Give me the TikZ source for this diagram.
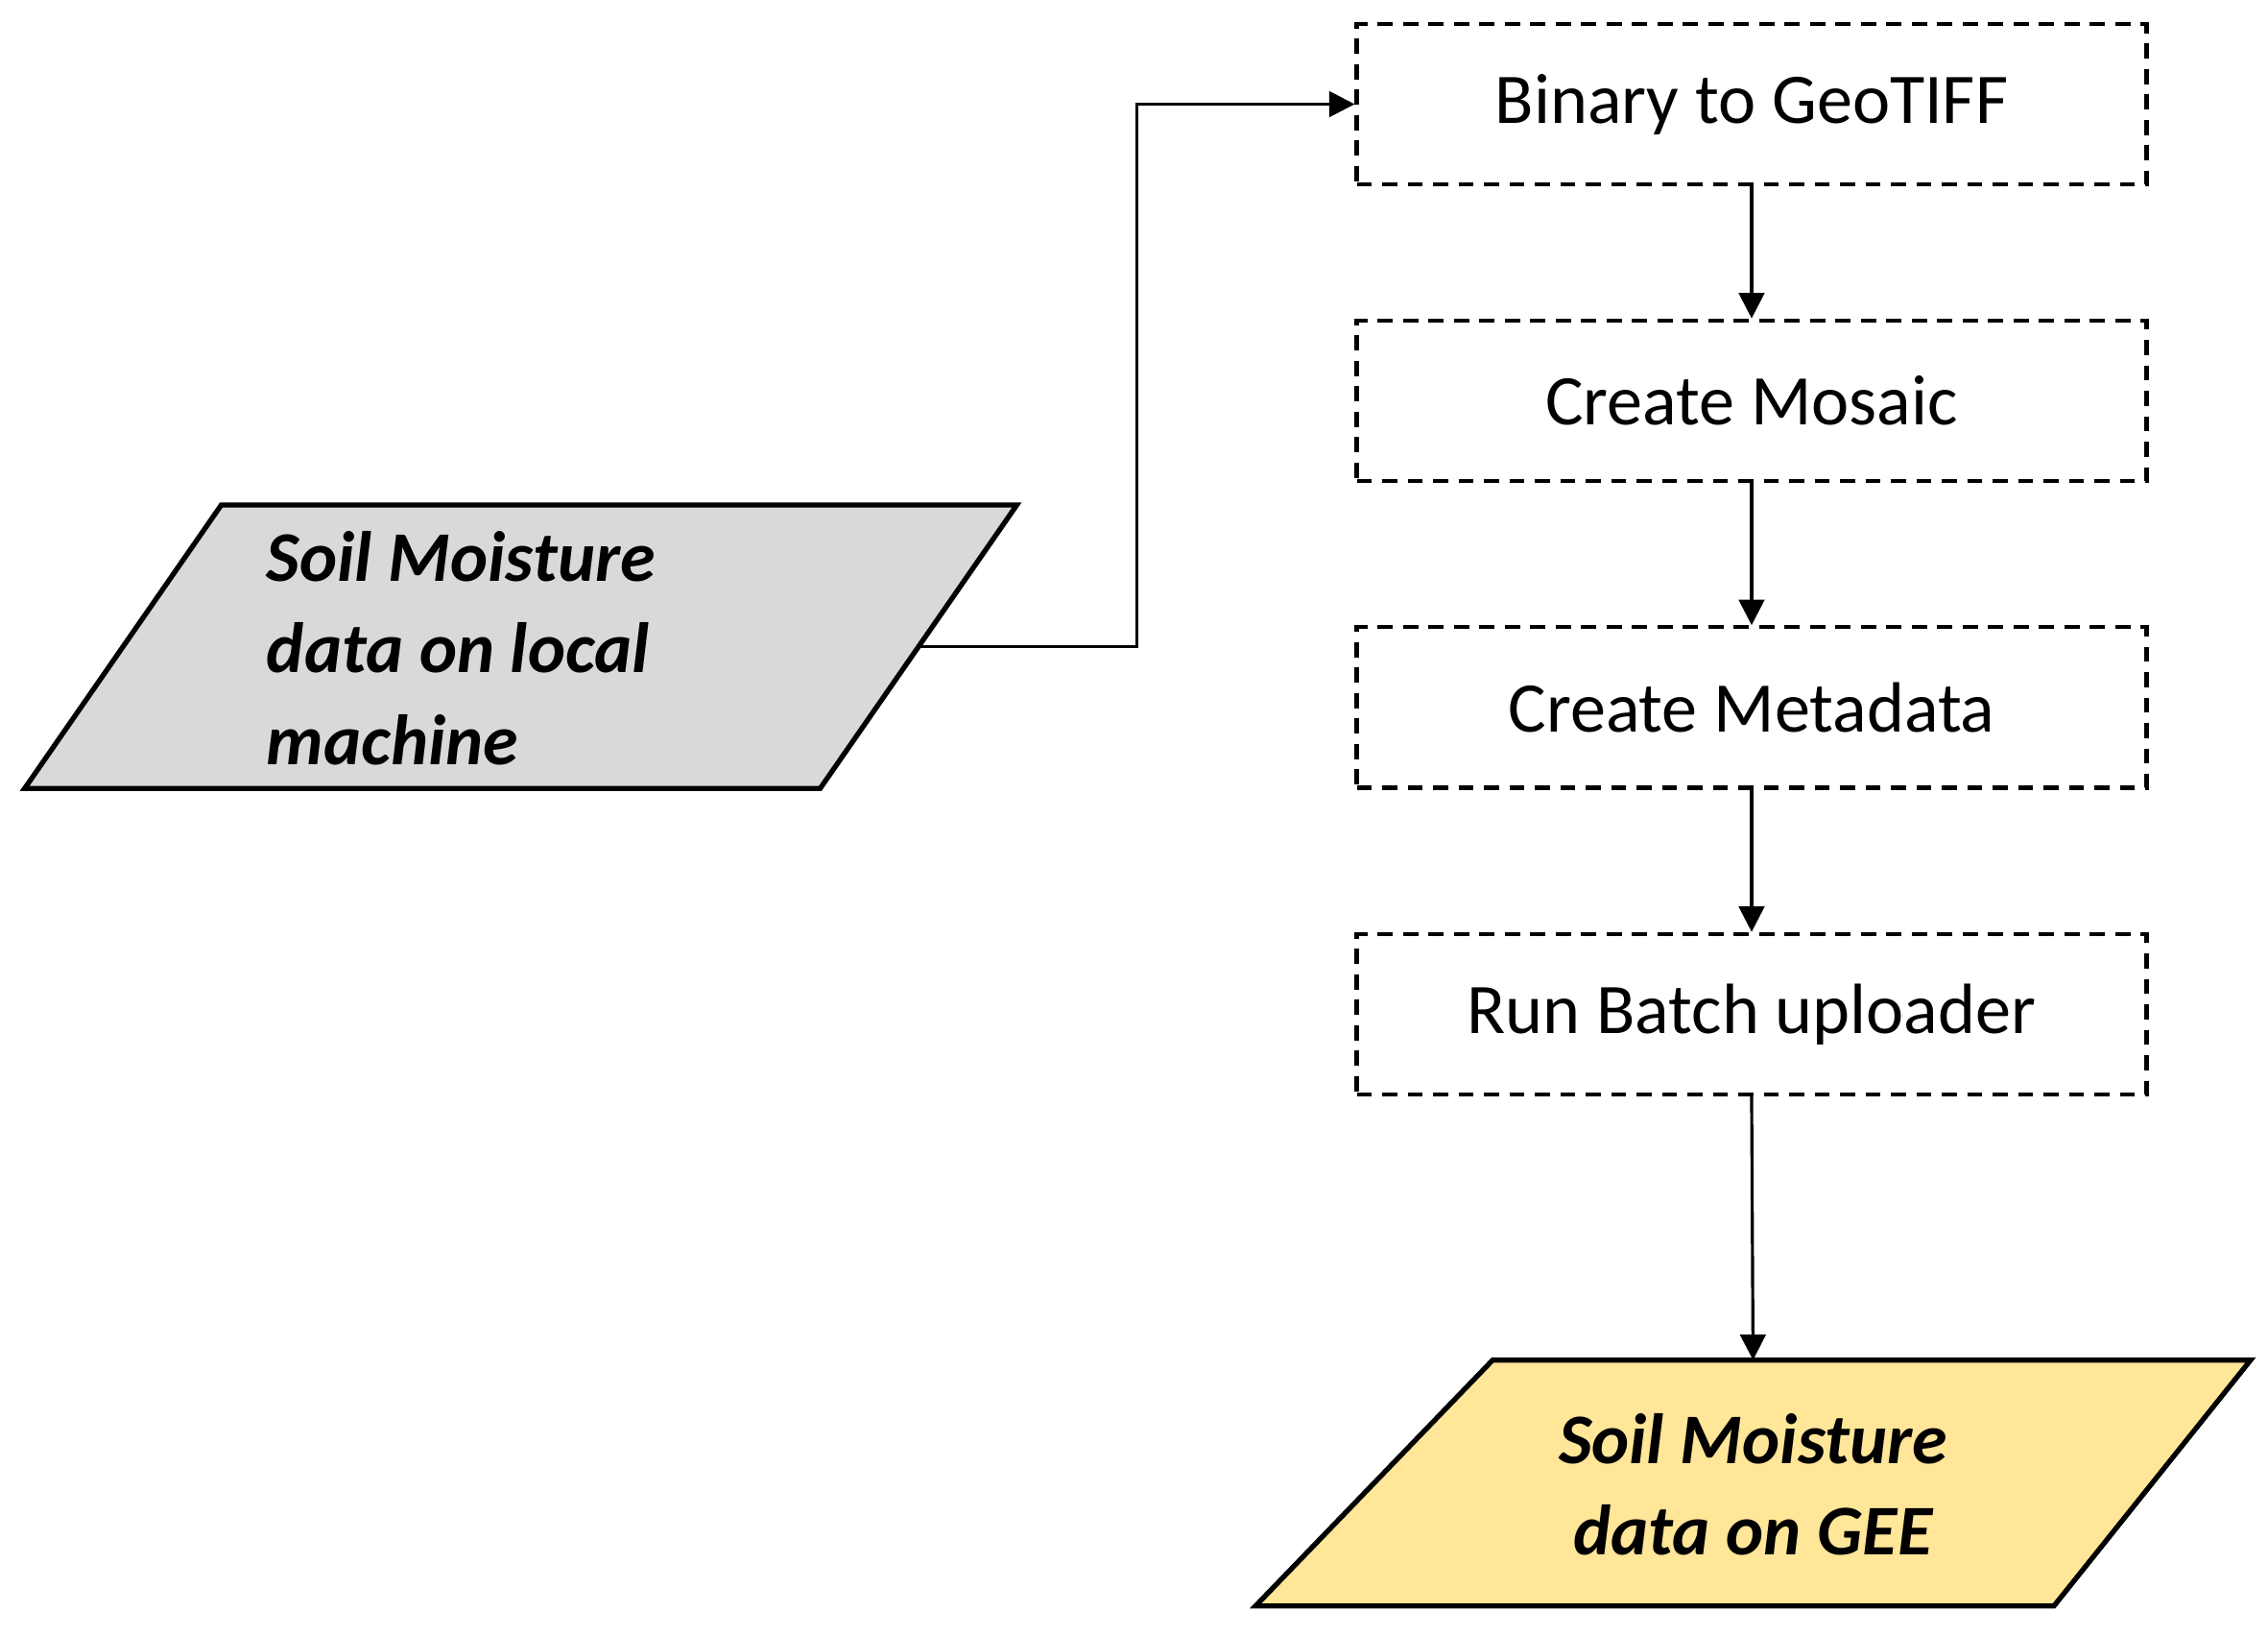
\documentclass[tikz,border=0pt]{standalone}
\usepackage{fontspec}
\setmainfont{Carlito}
\usetikzlibrary{arrows.meta}
\begin{document}
\begin{tikzpicture}[x=0.01cm,y=-0.01cm,
 box/.style={draw,densely dashed,line width=0.8pt,minimum width=546*0.01cm,minimum height=111*0.01cm,font=\fontsize{14}{17}\selectfont},
 arr/.style={-{Triangle[length=5pt,width=5pt]},line width=0.6pt},
 para/.style={draw,line width=1pt}]
\useasboundingbox (0,0) rectangle (1568,1130);
\node[box] (b1) at (1211,72) {Binary to GeoTIFF};
\node[box] (b2) at (1211,277) {Create Mosaic};
\node[box] (b3) at (1211,489) {Create Metadata};
\node[box] (b4) at (1211,701) {Run Batch uploader};
\draw[para,fill=black!15] (153,349) -- (703,349) -- (567,545) -- (17,545) -- cycle;
\node[font=\fontsize{14}{18}\selectfont\bfseries\itshape,align=left,anchor=west] (src) at (172,448) {Soil Moisture\\data on local\\machine};
\draw[para,fill=yellow!30!orange!35!white,fill={rgb,255:red,255;green,230;blue,153}] (1032,940) -- (1556,940) -- (1420,1110) -- (868,1110) -- cycle;
\node[font=\fontsize{14}{18}\selectfont\bfseries\itshape,align=center] (dst) at (1212,1026) {Soil Moisture\\data on GEE};
\coordinate (s) at (636,447);
\coordinate (t) at (1212,940);
\draw[arr] (s) -- (786,447) |- (b1.west);
\draw[arr] (b1) -- (b2);
\draw[arr] (b2) -- (b3);
\draw[arr] (b3) -- (b4);
\draw[arr] (b4.south) -- (t);
\end{tikzpicture}
\end{document}
